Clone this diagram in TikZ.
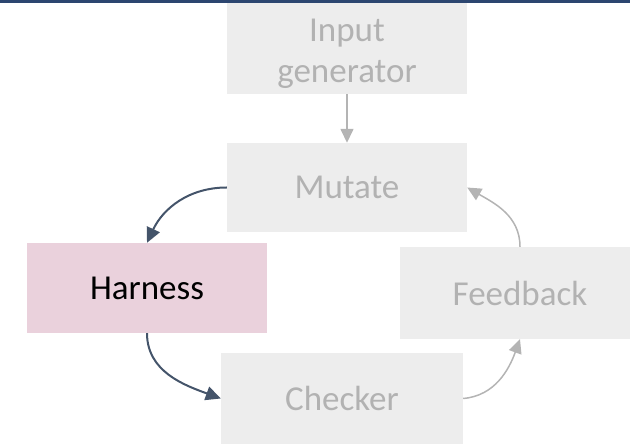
\documentclass[tikz,border=0pt]{standalone}
\usepackage{fontspec}
\setmainfont{Carlito}
\usetikzlibrary{arrows.meta}
\definecolor{boxgray}{HTML}{EDEDED}
\definecolor{txtgray}{HTML}{B2B2B2}
\definecolor{linegray}{HTML}{B4B4B4}
\definecolor{pinkbox}{HTML}{EAD1DC}
\definecolor{navy}{HTML}{44546A}
\definecolor{topbar}{HTML}{2C4670}
\tikzset{
  stagetext/.style={text=txtgray, inner sep=0pt, align=center, font=\fontsize{35}{41}\selectfont},
  stage/.style={stagetext, fill=boxgray, minimum width=240pt, minimum height=90pt},
  focus/.style={stage, fill=pinkbox, text=black},
  flowgray/.style={draw=linegray, line width=1.5pt, -{Triangle[length=14pt,width=13pt]}},
  flownavy/.style={draw=navy, line width=2pt, -{Triangle[length=15pt,width=14pt]}}
}
\begin{document}
\begin{tikzpicture}[x=1pt,y=1pt]
  \useasboundingbox (0,0) rectangle (630,445);
  \clip (0,0) rectangle (630,445);
  % header rule
  \fill[topbar] (0,442) rectangle (630,445);
  % stages of the loop
  \node[stage, minimum height=91pt] (input) at (347,396.5) {};
  \node[stagetext] (inputlabel) at ([yshift=-5pt]input.center) {Input\\generator};
  \node[stage, minimum height=89pt] (mutate) at (347,257.5) {Mutate};
  \node[focus] (harness) at (147,157) {Harness};
  \node[stage, minimum height=92pt] (feedback) at (520,152) {Feedback};
  \node[stage, minimum width=242pt, minimum height=91pt] (checker) at (342,46.5) {Checker};
  % connectors
  \draw[flowgray] (input.south) -- (mutate.north);
  \draw[flownavy] (mutate.west) to[out=180, in=65] (harness.north);
  \draw[flownavy] (harness.south) to[out=-90, in=160] (checker.west);
  \draw[flowgray] (checker.east) to[out=5, in=-110] (feedback.south);
  \draw[flowgray] (feedback.north) to[out=90, in=-30] (mutate.east);
\end{tikzpicture}
\end{document}
